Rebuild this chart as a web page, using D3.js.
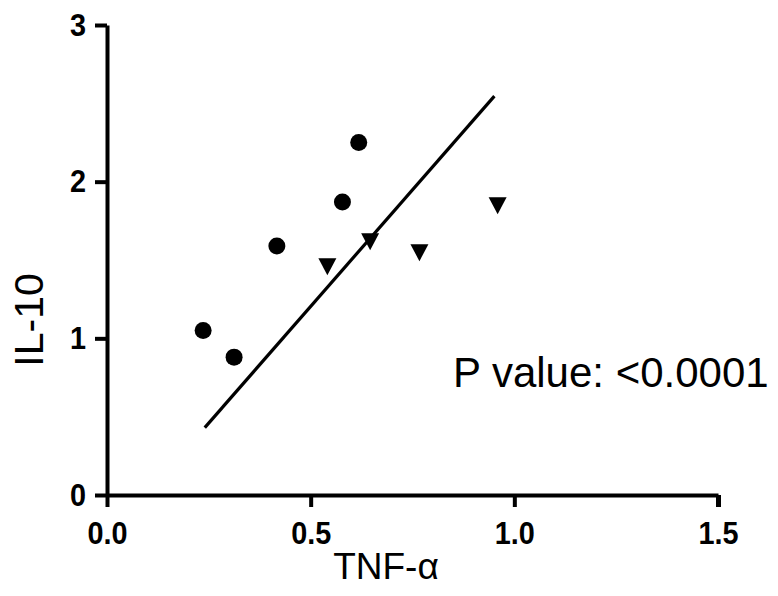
<!DOCTYPE html>
<html>
<head>
<meta charset="utf-8">
<script src="https://cdn.jsdelivr.net/npm/d3@7"></script>
<style>
  body { margin: 0; background: #fff; }
  svg { display: block; }
  .axis path, .axis line { stroke: #000; stroke-width: 4; }
  .axis text { font-family: "Liberation Sans", Arial, sans-serif; font-weight: bold; font-size: 32px; fill: #000; }
  .label { font-family: "Liberation Sans", Arial, sans-serif; fill: #000; }
</style>
</head>
<body>
<svg id="chart"></svg>
<script>
// group 1 (circles)
var circleTNF = [0.236, 0.312, 0.417, 0.578, 0.618];
var circleIL10 = [1.05, 0.88, 1.59, 1.87, 2.25];

// group 2 (triangles)
var triTNF = [0.541, 0.646, 0.767, 0.959];
var triIL10 = [1.46, 1.62, 1.55, 1.85];

// regression line ends
var fitTNF = [0.240, 0.951];
var fitIL10 = [0.43, 2.546];

var xTicks = [0, 0.5, 1.0, 1.5];
var yTicks = [0, 1, 2, 3];
var pText = "P value: <0.0001";

var width = 778, height = 596;

var svg = d3.select("#chart")
  .attr("width", width)
  .attr("height", height);

var x = d3.scaleLinear().domain([0, 1.5]).range([107, 718]);
var y = d3.scaleLinear().domain([0, 3]).range([495, 25]);

var xAxis = d3.axisBottom(x)
  .tickValues(xTicks)
  .tickFormat(d3.format(".1f"))
  .tickSize(12)
  .tickSizeOuter(0)
  .tickPadding(14);

var yAxis = d3.axisLeft(y)
  .tickValues(yTicks)
  .tickFormat(d3.format("d"))
  .tickSize(12)
  .tickSizeOuter(0)
  .tickPadding(9);

svg.append("g")
  .attr("class", "axis y")
  .attr("transform", "translate(" + x(0) + ",0)")
  .call(yAxis);

var gx = svg.append("g")
  .attr("class", "axis x")
  .attr("transform", "translate(0," + y(0) + ")")
  .call(xAxis);

// tick labels in the original are a bit narrower than Arial bold
svg.selectAll(".axis text").each(function(){
  var w = this.getComputedTextLength();
  d3.select(this)
    .attr("textLength", w * 0.9)
    .attr("lengthAdjust", "spacingAndGlyphs");
});

// last tick looks a bit heavier in the original
gx.selectAll(".tick").filter(function(d){ return d === 1.5; })
  .select("line").style("stroke-width", 5);

// regression line
svg.append("line")
  .attr("x1", x(fitTNF[0]))
  .attr("y1", y(fitIL10[0]))
  .attr("x2", x(fitTNF[1]))
  .attr("y2", y(fitIL10[1]))
  .attr("stroke", "#000")
  .attr("stroke-width", 3.2);

var circles = circleTNF.map(function(v, i){ return {x: v, y: circleIL10[i]}; });
var tris = triTNF.map(function(v, i){ return {x: v, y: triIL10[i]}; });

svg.append("g").selectAll("circle")
  .data(circles)
  .enter().append("circle")
    .attr("cx", function(d){ return x(d.x); })
    .attr("cy", function(d){ return y(d.y); })
    .attr("r", 8.5)
    .attr("fill", "#000");

// downward triangles
svg.append("g").selectAll("path")
  .data(tris)
  .enter().append("path")
    .attr("d", "M-9,-8L9,-8L0,9Z")
    .attr("transform", function(d){ return "translate(" + x(d.x) + "," + y(d.y) + ")"; })
    .attr("fill", "#000");

// axis titles
svg.append("text")
  .attr("class", "label")
  .attr("x", 386)
  .attr("y", 579)
  .attr("text-anchor", "middle")
  .style("font-size", "37px")
  .text("TNF-α");

svg.append("text")
  .attr("class", "label")
  .attr("transform", "translate(43,320) rotate(-90)")
  .attr("text-anchor", "middle")
  .style("font-size", "41px")
  .text("IL-10");

svg.append("text")
  .attr("class", "label")
  .attr("x", 453)
  .attr("y", 387)
  .style("font-size", "42px")
  .text(pText);
</script>
</body>
</html>
